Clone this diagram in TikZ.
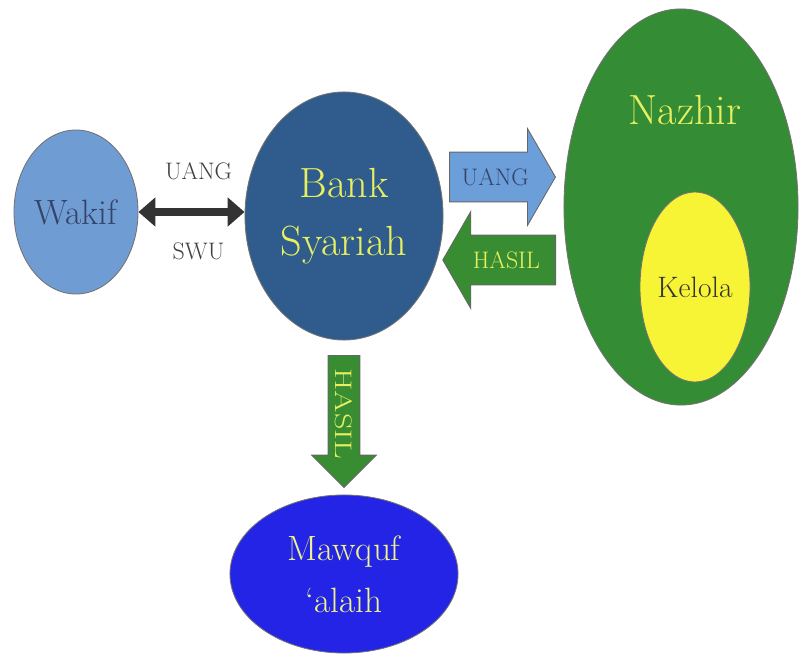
\documentclass[tikz,border=0pt]{standalone}
\usepackage{fontspec}
\usetikzlibrary{arrows.meta,shapes.geometric,shapes.arrows,positioning}

\definecolor{wakifblue}{RGB}{112,156,212}
\definecolor{bankblue}{RGB}{47,92,140}
\definecolor{nazhirgreen}{RGB}{52,140,52}
\definecolor{kelolayellow}{RGB}{246,244,52}
\definecolor{mawqufblue}{RGB}{36,36,230}
\definecolor{uangblue}{RGB}{108,158,218}
\definecolor{hasilgreen}{RGB}{56,140,50}
\definecolor{lightyellow}{RGB}{232,240,96}
\definecolor{inkblue}{RGB}{52,68,104}

\begin{document}
\begin{tikzpicture}[x=0.025cm, y=-0.025cm,
    blob/.style={ellipse, draw=black!55, line width=0.6pt, inner sep=0pt, align=center},
    blockarr/.style={single arrow, draw=black!60, line width=0.6pt, single arrow tip angle=120,
        inner xsep=4pt, text height=12pt, text depth=0pt, font=\fontsize{17}{20}\selectfont},
    lbl/.style={font=\fontsize{17}{20}\selectfont, text=black!75}
]
\useasboundingbox (0,0) rectangle (801,655);

% circles
\node[blob, fill=wakifblue, minimum width=3.1cm, minimum height=4.1cm, text=inkblue,
    font=\fontsize{25}{30}\selectfont] (wakif) at (76,212) {Wakif};
\node[blob, fill=bankblue, minimum width=4.95cm, minimum height=6.2cm, text=lightyellow,
    font=\fontsize{30}{44}\selectfont] (bank) at (344,216) {Bank\\[-3pt]Syariah};
\node[blob, fill=nazhirgreen, minimum width=5.85cm, minimum height=9.9cm] (nazhir) at (681,207) {};
\node[font=\fontsize{30}{36}\selectfont, text=lightyellow] (nazhirtxt) at (685,110) {Nazhir};
\node[blob, fill=kelolayellow, minimum width=2.75cm, minimum height=4.75cm, text=black!80,
    font=\fontsize{21}{26}\selectfont] (kelola) at (695,287) {Kelola};
\node[blob, fill=mawqufblue, minimum width=5.7cm, minimum height=3.95cm, text=lightyellow!75!white,
    font=\fontsize{25}{37}\selectfont] (mawquf) at (344,574) {Mawquf\\`alaih};

% block arrows
\node[blockarr, fill=uangblue, text=inkblue, anchor=tail, minimum height=2.65cm,
    inner ysep=11.4pt, single arrow head extend=0.59cm] (uang) at (449,177) {UANG};
\node[blockarr, fill=hasilgreen, text=lightyellow, anchor=tail, shape border rotate=180,
    minimum height=2.82cm, inner ysep=11.4pt, single arrow head extend=0.59cm] (hasil) at (556,260) {HASIL};
\node[blockarr, fill=hasilgreen, text=lightyellow, anchor=tail, rotate=-90,
    minimum height=3.3cm, inner ysep=5pt, single arrow head extend=0.41cm, single arrow tip angle=90]
    (hasildown) at (344,355) {\scalebox{1.35}[1]{HASIL}};

% wakif <-> bank
\draw[{Triangle[length=12pt,width=20pt]}-{Triangle[length=12pt,width=20pt]}, line width=5.5pt, black!80]
    (wakif.east) -- node[lbl, above=17pt, xshift=5pt] (uanglbl) {UANG} node[lbl, below=16pt, xshift=5pt] (swulbl) {SWU}
    (wakif.east -| bank.west);
\end{tikzpicture}
\end{document}
